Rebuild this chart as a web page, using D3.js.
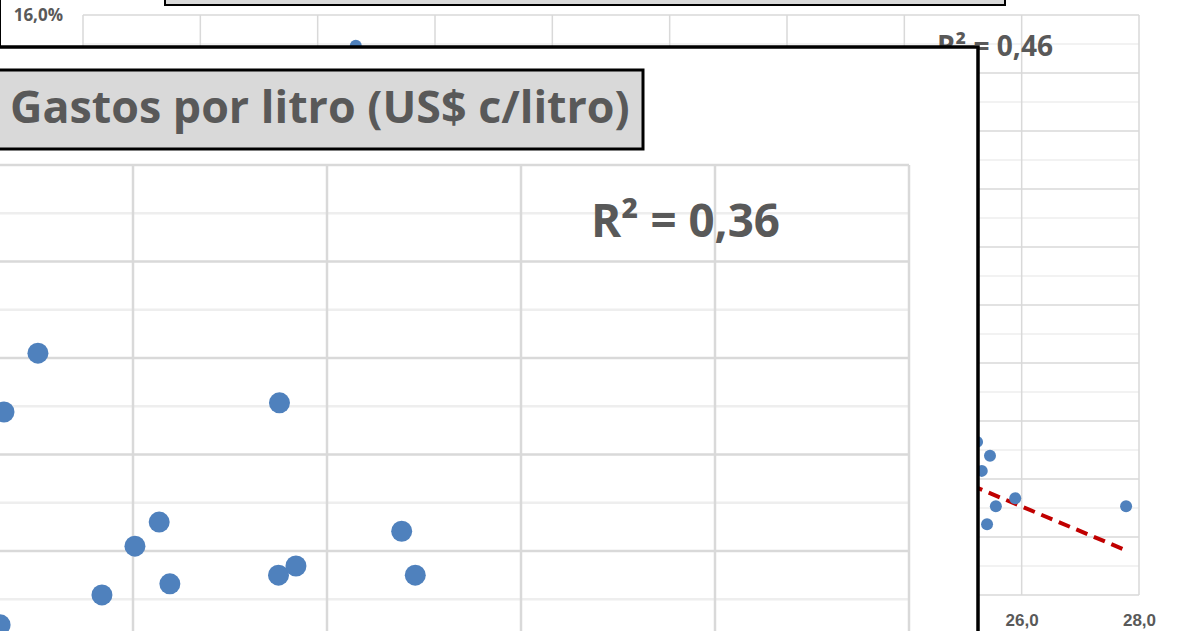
<!DOCTYPE html>
<html>
<head>
<meta charset="utf-8">
<script src="https://cdn.jsdelivr.net/npm/d3@7"></script>
<style>
    html, body { margin:0; padding:0; background:#ffffff; overflow:hidden; }
    svg { display:block; font-family:"Open Sans", "DejaVu Sans", sans-serif; }
</style>
</head>
<body>
<svg id="drawing_region" width="1178" height="631"></svg>
<script>
// ---- chart behind (mostly covered) ----
const backX = [14.65, 25.24, 25.46, 25.32, 25.89, 25.56, 25.41, 27.78];
const backY = [15.47, 8.64, 8.40, 8.14, 7.67, 7.53, 7.22, 7.53];
const backTrendX = [12.0, 27.78];
const backTrendY = [13.47, 6.77];
const backXTicks = [10, 12, 14, 16, 18, 20, 22, 24, 26, 28];
const backYMajor = [6, 7, 8, 9, 10, 11, 12, 13, 14, 15, 16];
const backYMinor = [6.5, 7.5, 8.5, 9.5, 10.5, 11.5, 12.5, 13.5, 14.5, 15.5];
const backR2 = 'R² = 0,46';

// ---- chart in front ----
const frontTitle = 'Gastos por litro (US$ c/litro)';
const frontX = [19.02, 18.67, 21.51, 20.27, 20.02, 19.68, 20.38, 21.50, 21.68, 22.77, 22.91, 18.63];
const frontY = [61.0, 48.8, 50.7, 26.0, 21.0, 10.9, 13.2, 15.0, 16.9, 24.1, 15.0, 4.7];
const frontXTicks = [18, 20, 22, 24, 26, 28];
const frontYMajor = [0, 20, 40, 60, 80, 100];
const frontYMinor = [10, 30, 50, 70, 90];
const frontR2 = 'R² = 0,36';

const locale = d3.formatLocale({ decimal: ',', thousands: '.', grouping: [3], currency: ['', ''] });
const fmt1 = locale.format('.1f');

class ScatterChart {

    constructor( config, data ) {
        this.config = config;
        this.data = data;
        this.init();
    }

    init() {
        let self = this;
        const p = self.config.plot;

        self.chart = d3.select( self.config.parent ).append('g');

        self.xscale = d3.scaleLinear()
            .domain( self.config.xdomain )
            .range( [p.left, p.right] );

        self.yscale = d3.scaleLinear()
            .domain( self.config.ydomain )
            .range( [p.bottom, p.top] );
    }

    render() {
        let self = this;
        const c = self.config;
        const p = c.plot;

        // chart area
        self.chart.append('rect')
            .attr('x', c.frame.x).attr('y', c.frame.y)
            .attr('width', c.frame.w).attr('height', c.frame.h)
            .attr('fill', '#ffffff')
            .attr('stroke', '#000000')
            .attr('stroke-width', c.frame.stroke);

        // gridlines
        self.chart.selectAll('.minor')
            .data( self.data.yMinor )
            .join('line')
            .attr('x1', p.left).attr('x2', p.right)
            .attr('y1', d => self.yscale(d)).attr('y2', d => self.yscale(d))
            .attr('stroke', '#eeeeee')
            .attr('stroke-width', c.grid);

        self.chart.selectAll('.major')
            .data( self.data.yMajor )
            .join('line')
            .attr('x1', p.left).attr('x2', p.right)
            .attr('y1', d => self.yscale(d)).attr('y2', d => self.yscale(d))
            .attr('stroke', '#d9d9d9')
            .attr('stroke-width', c.grid);

        self.chart.selectAll('.vgrid')
            .data( self.data.xTicks )
            .join('line')
            .attr('x1', d => self.xscale(d)).attr('x2', d => self.xscale(d))
            .attr('y1', p.top).attr('y2', p.bottom)
            .attr('stroke', '#d9d9d9')
            .attr('stroke-width', c.grid);

        // tick labels
        if ( c.labels ) {
            self.chart.selectAll('.ylab')
                .data( self.data.yMajor )
                .join('text')
                .attr('x', p.left - 20)
                .attr('y', d => self.yscale(d))
                .attr('dy', '0.35em')
                .attr('text-anchor', 'end')
                .attr('font-size', c.labels)
                .attr('font-weight', 'bold')
                .attr('fill', '#595959')
                .text( d => fmt1(d) + '%' );

            self.xaxis = d3.axisBottom( self.xscale )
                .tickValues( self.data.xTicks )
                .tickSize(0)
                .tickPadding(0)
                .tickFormat( fmt1 );

            self.chart.append('g')
                .attr('transform', `translate(0, ${p.bottom + 19})`)
                .call( self.xaxis )
                .call( g => g.select('.domain').remove() )
                .selectAll('text')
                .attr('font-family', null)
                .attr('font-size', c.labels)
                .attr('font-weight', 'bold')
                .attr('fill', '#595959');
        }

        // trend line
        if ( self.data.trendX ) {
            self.chart.append('path')
                .datum( d3.zip( self.data.trendX, self.data.trendY ) )
                .attr('d', d3.line().x( d => self.xscale(d[0]) ).y( d => self.yscale(d[1]) ))
                .attr('fill', 'none')
                .attr('stroke', '#c00000')
                .attr('stroke-width', 4)
                .attr('stroke-dasharray', '12,7');
        }

        // points
        self.chart.selectAll('.dot')
            .data( d3.zip( self.data.x, self.data.y ) )
            .join('circle')
            .attr('cx', d => self.xscale(d[0]))
            .attr('cy', d => self.yscale(d[1]))
            .attr('r', c.radius)
            .attr('fill', '#4f81bd');

        // R squared
        const r2 = self.chart.append('text')
            .attr('x', c.r2.x).attr('y', c.r2.y)
            .attr('font-size', c.r2.size)
            .attr('font-weight', 'bold')
            .attr('fill', '#595959')
            .text( self.data.r2 );
        self.fit( r2, c.r2.width );

        // title box
        self.chart.append('rect')
            .attr('x', c.title.x).attr('y', c.title.y)
            .attr('width', c.title.w).attr('height', c.title.h)
            .attr('fill', '#d9d9d9')
            .attr('stroke', '#000000')
            .attr('stroke-width', c.title.stroke);

        if ( self.data.title ) {
            const t = self.chart.append('text')
                .attr('x', c.title.tx).attr('y', c.title.ty)
                .attr('font-size', c.title.size)
                .attr('font-weight', 'bold')
                .attr('fill', '#595959')
                .text( self.data.title );
            self.fit( t, c.title.width );
        }
    }

    fit( sel, width ) {
        const len = sel.node().getComputedTextLength();
        const size = +sel.attr('font-size');
        sel.attr('font-size', size * width / len);
    }
}

const back_chart = new ScatterChart({
    parent: '#drawing_region',
    xdomain: [10, 28], ydomain: [6, 16],
    plot: {left: 83, right: 1139, top: 15, bottom: 595},
    frame: {x: 0, y: -60, w: 1400, h: 800, stroke: 2},
    grid: 1.5, radius: 6, labels: 17,
    r2: {x: 937, y: 56, size: 26, width: 116},
    title: {x: 165, y: -40, w: 840, h: 45, stroke: 2}
}, {
    x: backX, y: backY, trendX: backTrendX, trendY: backTrendY,
    xTicks: backXTicks, yMajor: backYMajor, yMinor: backYMinor, r2: backR2
});
back_chart.render();

const front_chart = new ScatterChart({
    parent: '#drawing_region',
    xdomain: [18, 28], ydomain: [0, 100],
    plot: {left: -61, right: 909, top: 165, bottom: 647.5},
    frame: {x: -20, y: 47, w: 998, h: 700, stroke: 3.5},
    grid: 2.5, radius: 10.5, labels: 0,
    r2: {x: 591, y: 237, size: 42, width: 189},
    title: {x: -20, y: 70, w: 663, h: 79, stroke: 3, tx: 10, ty: 123, size: 38, width: 620}
}, {
    x: frontX, y: frontY, xTicks: frontXTicks,
    yMajor: frontYMajor, yMinor: frontYMinor, r2: frontR2, title: frontTitle
});
front_chart.render();
</script>
</body>
</html>
